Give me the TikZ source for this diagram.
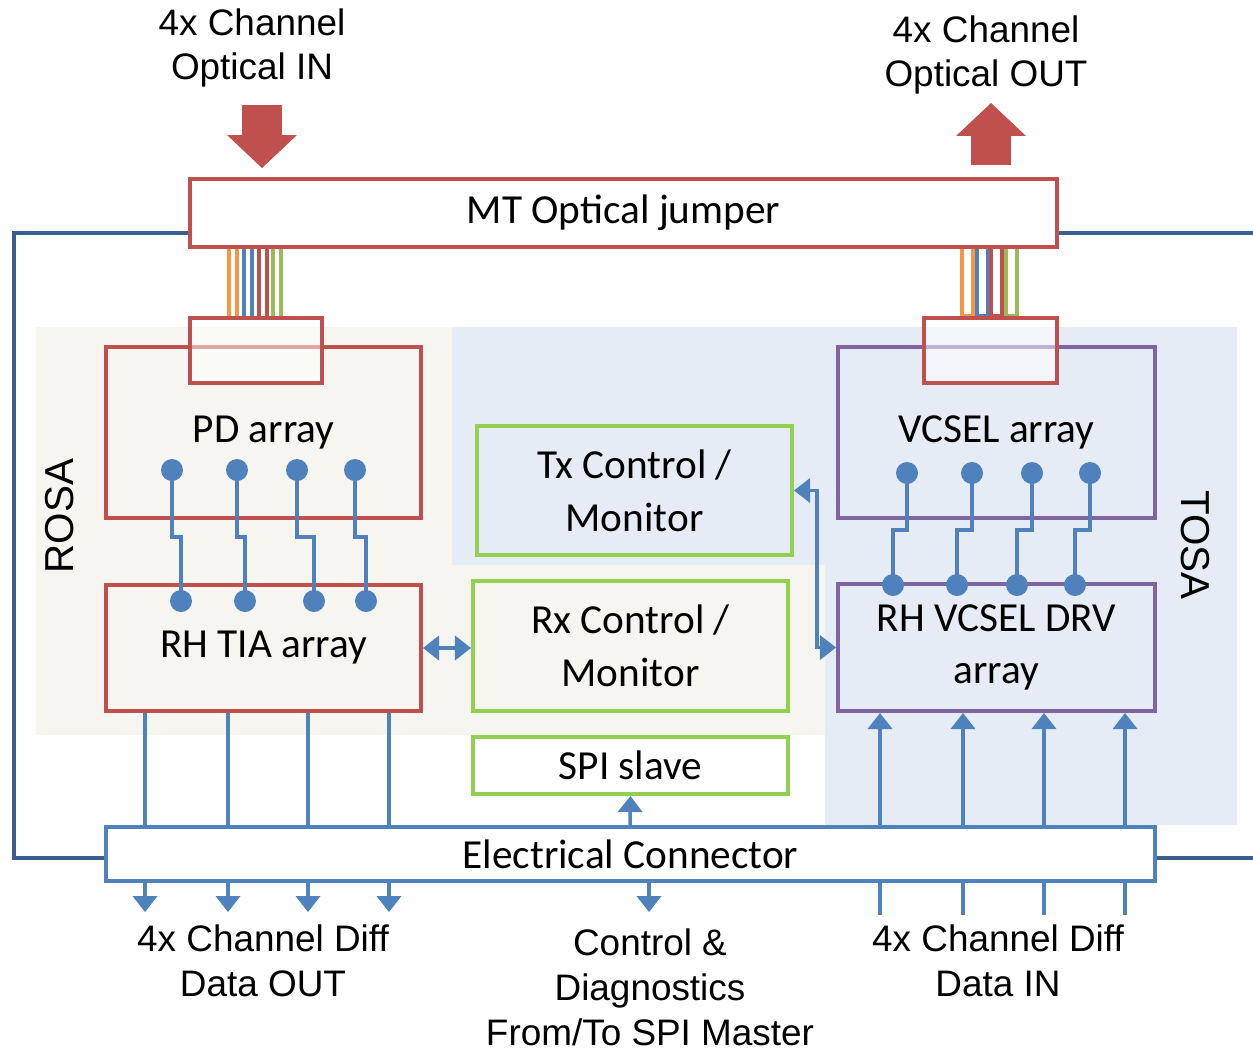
\documentclass[tikz,border=0pt]{standalone}
\usepackage{fontspec}
\setmainfont{Carlito}
\newfontfamily\arialfont{Liberation Sans}
\usetikzlibrary{arrows.meta}
\definecolor{jred}{HTML}{C0504D}
\definecolor{wblue}{HTML}{4F81BD}
\definecolor{fblue}{HTML}{3A5F8E}
\definecolor{cgreen}{HTML}{92D050}
\definecolor{vpurple}{HTML}{8064A2}
\definecolor{rosabg}{HTML}{F6F5F0}
\definecolor{tosabg}{HTML}{E6ECF6}
\definecolor{fibO}{HTML}{F79646}
\definecolor{fibG}{HTML}{9BBB59}
\tikzset{
  blk/.style={draw, line width=2.3pt, inner sep=0pt, align=center,
    font=\fontsize{23.5}{28}\selectfont},
  redblk/.style={blk, draw=jred},
  grnblk/.style={blk, draw=cgreen},
  vioblk/.style={blk, draw=vpurple},
  wire/.style={wblue, line width=2pt},
  dot/.style={circle, fill=wblue, inner sep=0pt, minimum size=0.44cm},
  lbl/.style={align=center, font=\arialfont\fontsize{21}{25.5}\selectfont},
  fibre/.style={line width=2pt},
  bigarr/.style={jred, line width=0.8cm, -{Triangle[width=1.4cm, length=0.66cm, line width=0pt]}},
  >={Triangle[width=0.5cm, length=0.32cm, line width=0pt]}
}
\begin{document}
\begin{tikzpicture}[x=0.02cm, y=-0.02cm]
\def\pxl{0.02cm}
\useasboundingbox (0,0) rectangle (1253,1052);
% ROSA / TOSA areas
\fill[rosabg] (36,327) rectangle (452,735);
\fill[rosabg] (452,565) rectangle (825,735);
\fill[tosabg] (452,327) rectangle (825,565);
\fill[tosabg] (825,327) rectangle (1237,825);
% module outline
\draw[fblue, line width=2.3pt] (190,233) -- (14,233) -- (14,858) -- (106,858);
\draw[fblue, line width=2.3pt] (1057,233) -- (1253,233) (1155,858) -- (1253,858);
% fibres
\foreach \x/\c in {229/fibO,237/fibO,244/wblue,252/wblue,259/jred,267/jred,273/fibG,281/fibG}
  \draw[fibre, \c] (\x,247) -- (\x,318);
\foreach \x/\c in {962/fibO,977/wblue,991/jred,1006/fibG}
  \draw[fibre, \c] (\x,247) -- (\x,316) -- (\x+11,316) -- (\x+11,247);

\node[redblk, fill=white, minimum width=867*\pxl, minimum height=68*\pxl] (jumper) at (623.5,213) {MT Optical jumper};
\node[redblk, minimum width=315*\pxl, minimum height=171*\pxl] (pd) at (263.5,432.5) {PD array};
\node[redblk, minimum width=315*\pxl, minimum height=126*\pxl] (tia) at (263.5,648) {RH TIA array};
\node[redblk, fill=white, fill opacity=0.5, minimum width=132*\pxl, minimum height=65*\pxl] (pdcon) at (256,350.5) {};
\node[grnblk, minimum width=315*\pxl, minimum height=129*\pxl] (tx) at (634.5,490.5) {Tx Control /\\[2pt]Monitor};
\node[grnblk, minimum width=315*\pxl, minimum height=130*\pxl] (rx) at (630.5,646) {Rx Control /\\[2pt]Monitor};
\node[grnblk, fill=white, minimum width=315*\pxl, minimum height=57*\pxl] (spi) at (630.5,765.5) {SPI slave};
\node[vioblk, minimum width=317*\pxl, minimum height=171*\pxl] (vcsel) at (996.5,432.5) {VCSEL array};
\node[vioblk, minimum width=317*\pxl, minimum height=127*\pxl] (drv) at (996.5,647.5) {RH VCSEL DRV\\[2pt]array};
\node[redblk, fill=white, fill opacity=0.5, minimum width=133*\pxl, minimum height=65*\pxl] (vcon) at (990.5,350.5) {};
\node[blk, draw=wblue, fill=white, minimum width=1049*\pxl, minimum height=54*\pxl] (elec) at (630.5,854) {Electrical Connector};

% optical in / out
\coordinate (inA) at (262,105);
\coordinate (inB) at (262,168);
\coordinate (outA) at (991,165);
\coordinate (outB) at (991,103);
\draw[bigarr] (inA) -- (inB);
\draw[bigarr] (outA) -- (outB);

% pads
\foreach \a/\b [count=\i] in {172/181,237/245,297/314,355/366} {
  \draw[wire] (\a,470) -- (\a,537) -| (\b,601);
  \node[dot] (pd\i) at (\a,470) {};
  \node[dot] (tia\i) at (\b,601) {};
}
\foreach \a/\b [count=\i] in {907/893,972/957,1032/1017,1090/1075} {
  \draw[wire] (\a,473) -- (\a,530) -| (\b,585);
  \node[dot] (vc\i) at (\a,473) {};
  \node[dot] (dr\i) at (\b,585) {};
}

% control
\draw[wire, <->] (tia.east) -- (tia.east -| rx.west);
\draw[wire, <->] (tx.east) -- ++(23,0) |- (drv.west);
\draw[wire, ->] (elec.north -| 630,0) -- (spi.south);
\coordinate (ctl) at (649,912);
\draw[wire, ->] (elec.south -| ctl) -- (ctl);

% data lanes
\foreach \x in {145,228,308,389} {
  \coordinate (dout) at (\x,912);
  \draw[wire] (tia.south -| dout) -- (elec.north -| dout);
  \draw[wire, ->] (elec.south -| dout) -- (dout);
}
\foreach \x in {880,963,1044,1125} {
  \coordinate (din) at (\x,915);
  \draw[wire, ->] (elec.north -| din) -- (drv.south -| din);
  \draw[wire] (din) -- (elec.south -| din);
}

% labels
\node[lbl] (inlbl) at (252,48) {4x Channel\\Optical IN};
\node[lbl] (outlbl) at (986,55) {4x Channel\\Optical OUT};
\node[lbl, rotate=90, font=\arialfont\fontsize{23}{28}\selectfont] (rosa) at (60,516) {ROSA};
\node[lbl, rotate=-90, font=\arialfont\fontsize{23}{28}\selectfont] (tosa) at (1195,545) {TOSA};
\node[lbl] (doutlbl) at (263,961) {4x Channel Diff\\Data OUT};
\node[lbl] (ctllbl) at (650,987) {Control \&\\Diagnostics\\From/To SPI Master};
\node[lbl] (dinlbl) at (998,961) {4x Channel Diff\\Data IN};
\end{tikzpicture}
\end{document}
